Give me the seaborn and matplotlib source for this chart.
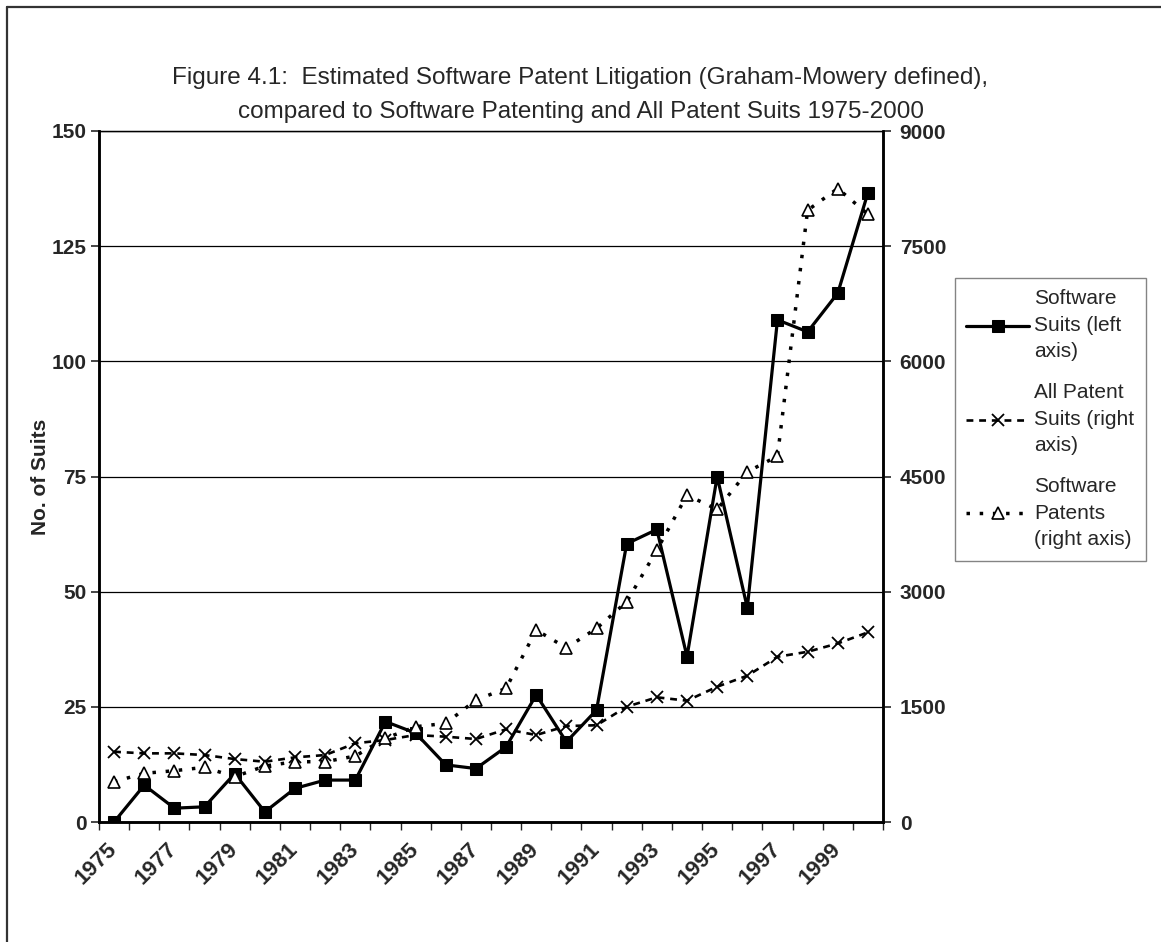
import numpy as np
import seaborn as sns
import matplotlib.pyplot as plt
from matplotlib.lines import Line2D

years = list(range(1975, 2001))

# software suits, left axis
software_suits = [0, 8, 3, 3.3, 10.5, 2.2, 7.3, 9.1, 9.1, 21.8, 19.3, 12.4, 11.6,
                  16.3, 27.6, 17.4, 24.3, 60.4, 63.5, 35.9, 75.0, 46.5, 109.0,
                  106.4, 114.8, 136.6]

# all patent suits, right axis
all_suits = [915, 894, 894, 872, 820, 785, 842, 872, 1025, 1068, 1133, 1111, 1081,
             1207, 1133, 1250, 1260, 1501, 1624, 1580, 1762, 1905, 2152, 2217,
             2326, 2470]

# software patents, right axis
sw_patents = [525, 634, 668, 712, 590, 729, 785, 785, 859, 1090, 1241, 1285, 1588,
              1741, 2500, 2268, 2522, 2868, 3541, 4258, 4071, 4561, 4765, 7968,
              8251, 7916]

left_ticks = [0, 25, 50, 75, 100, 125, 150]
right_ticks = [0, 1500, 3000, 4500, 6000, 7500, 9000]
year_labels = [str(y) for y in years[::2]]

title = ("Figure 4.1:  Estimated Software Patent Litigation (Graham-Mowery defined),\n"
         "compared to Software Patenting and All Patent Suits 1975-2000")

sns.set_style("white")
plt.rcParams["font.family"] = ["Liberation Sans", "DejaVu Sans"]

fig = plt.figure(figsize=(11.61, 9.42), dpi=100)
ax = fig.add_axes([99 / 1161, 1 - 822 / 942, 784 / 1161, 691 / 942])
ax2 = ax.twinx()

sns.lineplot(x=years, y=software_suits, ax=ax, color="black", linewidth=2.3,
             marker="s", markersize=8.5, markeredgecolor="black",
             label="Software\nSuits (left\naxis)", legend=False, zorder=3)
sns.lineplot(x=years, y=all_suits, ax=ax2, color="black", linewidth=1.9,
             marker="x", markersize=8, markeredgewidth=1.3,
             markeredgecolor="black",
             label="All Patent\nSuits (right\naxis)", legend=False)
sns.lineplot(x=years, y=sw_patents, ax=ax2, color="black", linewidth=2.5,
             marker="^", markersize=8.5, markerfacecolor="white",
             markeredgecolor="black", markeredgewidth=1.2,
             label="Software\nPatents\n(right axis)", legend=False)
ax2.lines[0].set_dashes([2.6, 2.2])
ax2.lines[1].set_dashes([1.0, 2.8])

# left axis
ax.set_ylim(0, 150)
ax.set_yticks(left_ticks)
ax.set_yticklabels([str(t) for t in left_ticks], fontsize=15, fontweight="bold")
ax.yaxis.grid(True, color="black", linewidth=0.9)
ax.set_ylabel("No. of Suits", fontsize=15, fontweight="bold")
ax.yaxis.set_label_coords(-0.062, 0.5)
ax.tick_params(axis="y", which="major", direction="out", length=6, width=1.2,
               pad=3, left=True)

# right axis
ax2.set_ylim(0, 9000)
ax2.set_yticks(right_ticks)
ax2.set_yticklabels([str(t) for t in right_ticks], fontsize=15, fontweight="bold")
ax2.tick_params(axis="y", direction="out", length=6, width=1.2, pad=6, right=True)
ax2.grid(False)

# category axis
ax.set_xlim(years[0] - 0.5, years[-1] + 0.5)
ax.set_xticks(years[::2])
ax.set_xticklabels(year_labels, fontsize=16, fontweight="bold", rotation=45,
                   ha="right", va="center", rotation_mode="anchor")
ax.set_xticks(np.arange(years[0] - 0.5, years[-1] + 1), minor=True)
ax.tick_params(axis="x", which="major", length=0, pad=17)
ax.tick_params(axis="x", which="minor", direction="out", length=6, width=1.0,
               bottom=True)

for a in (ax, ax2):
    for side in ("left", "bottom", "right"):
        a.spines[side].set_color("black")
        a.spines[side].set_linewidth(1.8)
    a.spines["top"].set_color("black")
    a.spines["top"].set_linewidth(0.9)

handles = ax.get_lines()[:1] + ax2.get_lines()[:2]
leg = fig.legend(handles=handles, labels=[h.get_label() for h in handles],
                 loc="upper left", bbox_to_anchor=(955 / 1161, 1 - 278 / 942),
                 borderaxespad=0, fontsize=15, frameon=True, fancybox=False,
                 edgecolor="#666666", handlelength=3.0, handletextpad=0.25,
                 labelspacing=1.05, borderpad=0.55)
leg.get_frame().set_linewidth(1.0)
for t in leg.get_texts():
    t.set_linespacing(1.5)

fig.text(0.5, 1 - 95 / 942, title, ha="center", va="center", fontsize=17.5,
         linespacing=1.66)

# outer chart frame
fig.add_artist(Line2D([7 / 1161, 7 / 1161], [0, 1 - 7 / 942], color="#333333",
                      linewidth=1.6, transform=fig.transFigure))
fig.add_artist(Line2D([7 / 1161, 1], [1 - 7 / 942, 1 - 7 / 942], color="#333333",
                      linewidth=1.6, transform=fig.transFigure))

fig.savefig("out.png", dpi=100, facecolor="white")
